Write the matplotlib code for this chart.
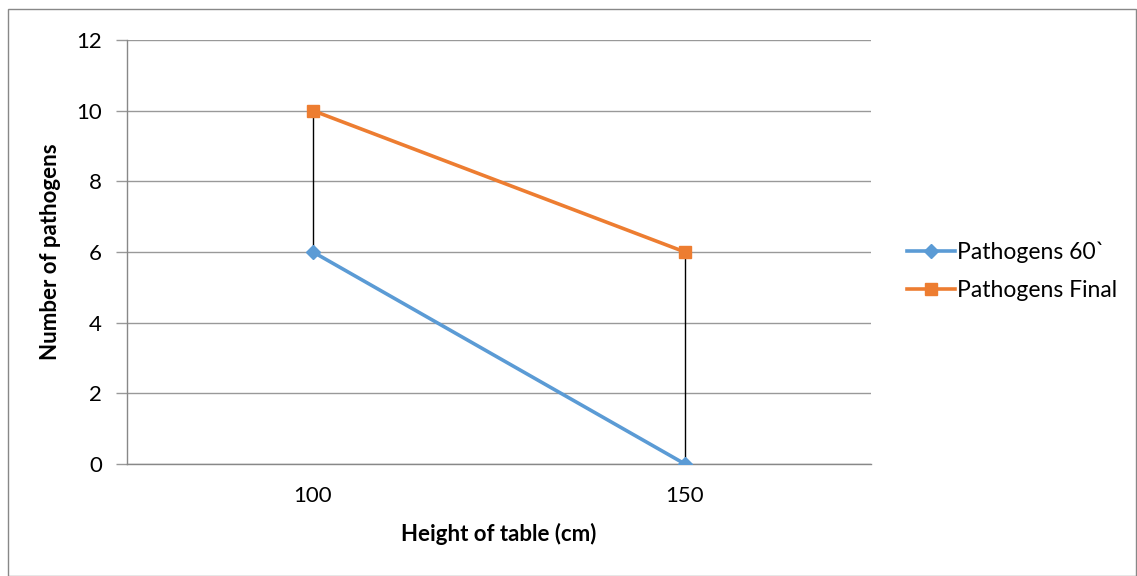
import matplotlib
matplotlib.use("Agg")
import matplotlib.pyplot as plt
from matplotlib.patches import Rectangle

categories = ["100", "150"]
pathogens_60 = [6, 0]
pathogens_final = [10, 6]
series_names = ["Pathogens 60`", "Pathogens Final"]

plt.rcParams['font.family'] = ['Lato', 'DejaVu Sans']

fig = plt.figure(figsize=(11.37, 5.76), dpi=100)
ax = fig.add_axes([127/1137, 1-464/576, (871-127)/1137, (464-40)/576])

x = list(range(len(categories)))

# high-low (drop) lines
for xi, a, b in zip(x, pathogens_60, pathogens_final):
    ax.plot([xi, xi], [min(a, b), max(a, b)], color='black', lw=1.0, zorder=2)

ax.plot(x, pathogens_60, color='#5B9BD5', lw=2.6, marker='D', markersize=7.5,
        label=series_names[0], zorder=3)
ax.plot(x, pathogens_final, color='#ED7D31', lw=2.6, marker='s', markersize=9,
        label=series_names[1], zorder=3)

ax.set_xlim(-0.5, len(categories) - 0.5)
ax.set_ylim(0, 12)
ax.set_yticks(range(0, 13, 2))
ax.set_xticks(x)
ax.set_xticklabels(categories)
ax.yaxis.grid(True, color='#999999', lw=1.0, zorder=0)
ax.set_axisbelow(True)
for s in ['top', 'right']:
    ax.spines[s].set_visible(False)
for s in ['left', 'bottom']:
    ax.spines[s].set_color('#888888')
    ax.spines[s].set_linewidth(1.0)
ax.tick_params(axis='y', length=8, color='#999999', width=1.0, labelsize=16, pad=10)
ax.tick_params(axis='x', length=0, labelsize=16, pad=16)

ax.set_xlabel("Height of table (cm)", fontsize=16, fontweight='bold', labelpad=12)
ax.set_ylabel("Number of pathogens", fontsize=16, fontweight='bold', labelpad=11)

fig.legend(loc='center left', bbox_to_anchor=(886/1137, 1-271/576), frameon=False,
           fontsize=16.5, handlelength=2.1, handletextpad=0.1, labelspacing=0.75)

fig.patches.append(Rectangle((8/1137, 0.5/576), 1-9/1137, 1-9/576, transform=fig.transFigure,
                             fill=False, edgecolor='#888888', lw=1.0))

fig.savefig("out.png", dpi=100)
